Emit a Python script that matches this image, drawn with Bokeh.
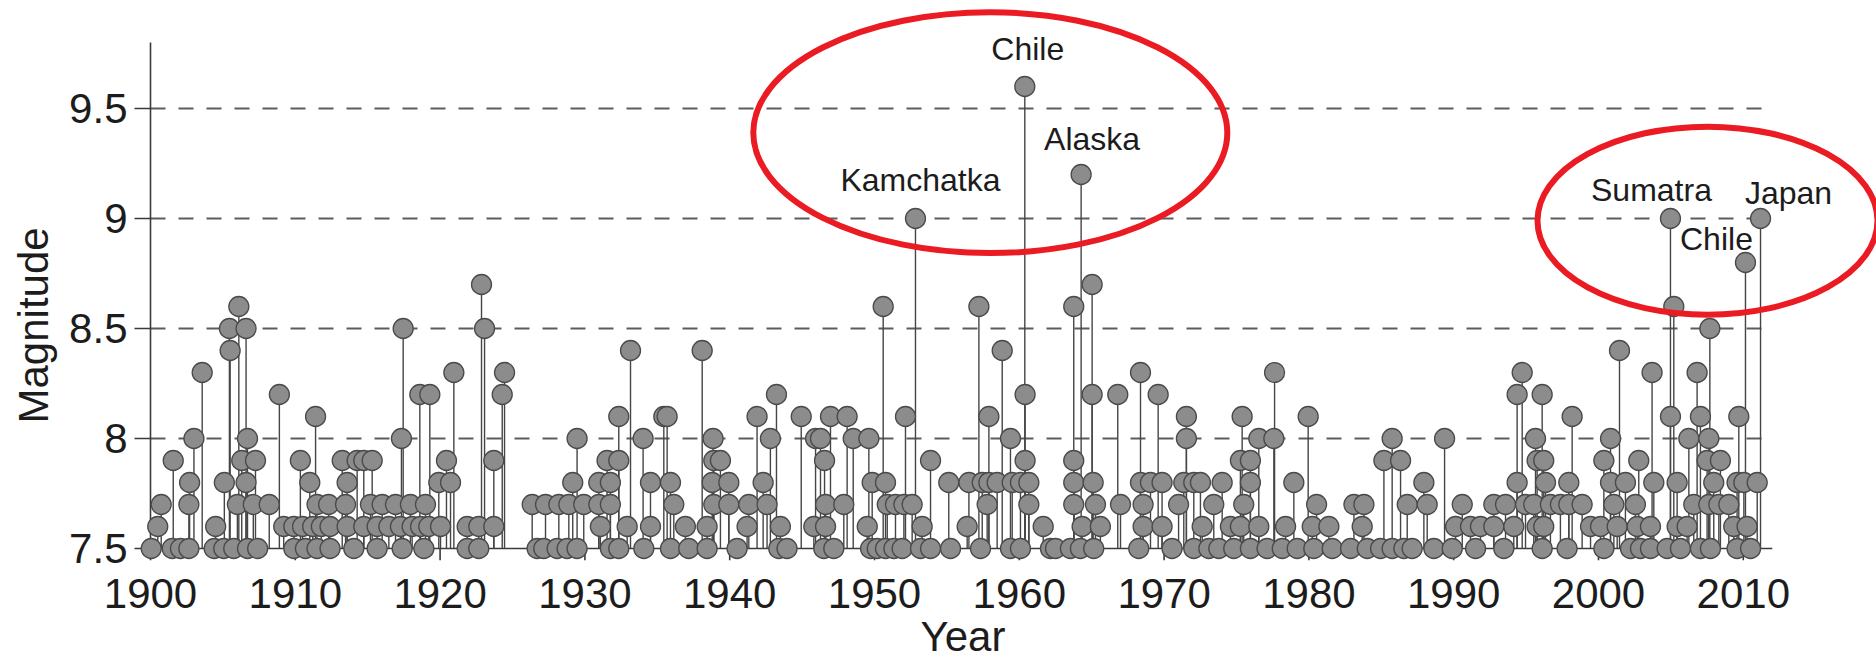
from bokeh.plotting import figure
from bokeh.models import ColumnDataSource, FixedTicker, Title
from bokeh.core.properties import value
from bokeh.embed import file_html
from bokeh.resources import INLINE

# ---------------- data ----------------
years_1900s = [1900.05,1900.50,1900.74,1901.50,1901.57,1902.07,1902.65,1902.65,1902.70,1903.00,1903.57,1904.40,1904.50,1905.06,1905.10,1905.45,1905.50,1905.75,1906.00,1906.10,1906.30,1906.60,1906.60,1906.70,1906.70,1907.10,1907.25,1907.40,1908.20,1908.90,1909.20,1909.90,1909.90,1910.35,1910.50,1910.70,1911.00,1911.20,1911.40,1911.50,1911.50,1911.80,1912.30,1912.40,1912.40]
mags_1900s = [7.5,7.6,7.7,7.5,7.9,7.5,7.5,7.7,7.8,8.0,8.3,7.5,7.6,7.5,7.8,8.5,8.4,7.5,7.7,8.6,7.9,8.5,7.8,8.0,7.5,7.7,7.9,7.5,7.7,8.2,7.6,7.5,7.6,7.9,7.6,7.5,7.8,7.6,8.1,7.5,7.7,7.6,7.7,7.5,7.6]

years_1910s = [1913.24,1913.47,1913.58,1913.58,1914.04,1914.27,1914.73,1914.73,1915.19,1915.31,1915.65,1915.65,1916.00,1916.46,1916.92,1917.26,1917.33,1917.38,1917.45,1917.95,1918.07,1918.60,1918.65,1918.88,1918.99,1919.22,1919.29,1919.91,1920.03,1920.44,1920.72,1920.95,1921.87,1921.87,1922.67,1922.67,1922.86,1923.07,1923.71,1923.71,1924.29,1924.45,1926.36,1926.70]
mags_1910s = [7.9,7.7,7.8,7.6,7.5,7.9,7.9,7.6,7.7,7.9,7.6,7.5,7.7,7.6,7.7,7.6,8.0,7.5,8.5,7.7,7.6,8.2,7.6,7.5,7.7,7.6,8.2,7.8,7.6,7.9,7.8,8.3,7.6,7.5,7.6,7.5,8.7,8.5,7.9,7.6,8.2,8.3,7.7,7.5]

years_1930s = [1927.16,1927.28,1928.08,1928.20,1928.77,1928.89,1929.16,1929.46,1929.46,1929.92,1930.96,1930.96,1931.07,1931.53,1931.76,1931.76,1931.76,1932.34,1932.34,1932.34,1932.92,1933.15,1934.02,1934.07,1934.53,1934.53,1935.45,1935.68,1935.91,1935.91,1936.14,1936.94,1937.17,1938.10,1938.44,1938.44,1938.79,1938.85,1938.90,1938.90,1939.36,1939.94,1939.94,1940.51,1941.20,1941.32,1941.89,1942.31,1942.58,1942.81,1943.23,1943.39,1943.50,1943.96]
mags_1930s = [7.5,7.7,7.5,7.7,7.5,7.7,7.8,8.0,7.5,7.7,7.7,7.8,7.6,7.9,7.7,7.8,7.5,8.1,7.9,7.5,7.6,8.4,8.0,7.5,7.8,7.6,8.1,8.1,7.8,7.5,7.7,7.6,7.5,8.4,7.6,7.5,7.8,8.0,7.9,7.7,7.9,7.8,7.7,7.5,7.6,7.7,8.1,7.8,7.7,8.0,8.2,7.5,7.6,7.5]

years_1950s = [1944.94,1945.81,1945.93,1946.27,1946.50,1946.55,1946.62,1946.62,1946.96,1947.19,1947.88,1948.11,1948.53,1949.50,1949.61,1949.73,1949.84,1950.19,1950.60,1950.76,1950.76,1950.88,1951.34,1951.45,1951.91,1952.03,1952.14,1952.60,1952.83,1953.18,1953.29,1953.87,1953.87,1955.13,1955.25,1956.40,1956.52,1957.21,1957.32,1957.44,1957.78,1957.90,1957.90,1958.47,1958.82,1959.39,1959.39,1959.51,1960.08,1960.08,1960.38,1960.40,1960.40,1960.66,1960.66]
mags_1950s = [8.1,7.6,8.0,8.0,7.5,7.9,7.7,7.6,8.1,7.5,7.7,8.1,8.0,7.6,8.0,7.5,7.8,7.5,8.6,7.8,7.5,7.7,7.5,7.7,7.5,7.7,8.1,7.7,9.0,7.5,7.6,7.9,7.5,7.8,7.5,7.6,7.8,8.6,7.5,7.8,7.7,8.1,7.8,7.8,8.4,8.0,7.5,7.8,7.8,7.5,9.6,8.2,7.9,7.8,7.7]

years_1960s = [1961.65,1962.15,1962.50,1963.53,1963.76,1963.76,1963.76,1963.76,1964.22,1964.27,1964.34,1965.03,1965.03,1965.10,1965.14,1965.26,1965.60,1966.80,1966.99,1968.25,1968.37,1968.37,1968.55,1968.55,1969.06,1969.59,1969.86,1969.86,1970.55,1971.00,1971.36,1971.54,1971.54,1972.05,1972.05,1972.51,1972.63,1973.09,1973.43,1973.78,1974.01,1974.58,1974.81,1975.27,1975.27,1975.39,1975.50,1975.96,1975.96,1975.96,1976.54,1976.54,1977.11]
mags_1960s = [7.6,7.5,7.5,7.5,8.6,7.9,7.8,7.7,7.5,9.2,7.6,8.7,8.2,7.8,7.5,7.7,7.6,8.2,7.7,7.5,8.3,7.8,7.7,7.6,7.8,8.2,7.8,7.6,7.5,7.7,7.8,8.1,8.0,7.8,7.5,7.8,7.6,7.5,7.7,7.5,7.8,7.6,7.5,7.9,7.6,8.1,7.7,7.9,7.8,7.5,8.0,7.6,7.5]

years_1980s = [1977.58,1977.63,1978.16,1978.39,1978.96,1979.19,1979.95,1980.23,1980.34,1980.53,1981.38,1981.61,1982.88,1983.11,1983.68,1983.80,1984.03,1984.95,1985.18,1985.75,1985.75,1986.33,1986.56,1986.79,1987.13,1987.94,1988.17,1988.63,1989.37,1989.90,1990.13,1990.59,1991.16,1991.51,1991.85,1992.77,1992.77]
mags_1980s = [8.0,8.3,7.5,7.6,7.8,7.5,8.1,7.6,7.5,7.7,7.6,7.5,7.5,7.7,7.6,7.7,7.5,7.5,7.9,8.0,7.5,7.9,7.5,7.7,7.5,7.8,7.7,7.5,8.0,7.5,7.6,7.7,7.6,7.5,7.6,7.6,7.7]

years_2000s = [1993.46,1993.58,1994.15,1994.38,1994.38,1994.73,1994.96,1995.53,1995.65,1995.76,1995.76,1996.11,1996.11,1996.22,1996.22,1996.34,1996.68,1997.37,1997.83,1997.95,1997.95,1998.18,1998.87,1999.45,2000.14,2000.37,2000.37,2000.83,2000.83,2001.06,2001.29,2001.45,2001.86,2002.21,2002.55,2002.67,2002.78,2002.90,2003.59,2003.59,2003.70,2003.82,2004.74,2004.97,2004.97,2005.20,2005.43,2005.43,2005.66,2006.12,2006.24,2006.58,2006.81,2007.04,2007.04,2007.50,2007.62,2007.62,2007.69,2007.73,2007.96,2008.31,2008.42,2009.00,2009.34,2009.57,2009.57,2009.69,2010.04,2010.15,2010.26,2010.50,2010.96,2011.19]
mags_2000s = [7.5,7.7,7.6,7.8,8.2,8.3,7.7,7.7,8.0,7.6,7.9,7.5,8.2,7.6,7.9,7.8,7.7,7.7,7.5,7.7,7.8,8.1,7.7,7.6,7.6,7.5,7.9,7.8,8.0,7.7,7.6,8.4,7.8,7.5,7.7,7.6,7.9,7.5,7.5,7.6,8.3,7.8,7.5,9.0,8.1,8.6,7.6,7.8,7.5,7.6,8.0,7.7,8.3,7.5,8.1,7.9,7.7,8.0,8.5,7.5,7.8,7.7,7.9,7.7,7.6,7.5,7.8,8.1,7.8,8.8,7.6,7.5,7.8,9.0]

x_ticks = [1900, 1910, 1920, 1930, 1940, 1950, 1960, 1970, 1980, 1990, 2000, 2010]
x_tick_labels = ["1900", "1910", "1920", "1930", "1940", "1950", "1960", "1970", "1980", "1990", "2000", "2010"]
y_ticks = [7.5, 8.0, 8.5, 9.0, 9.5]
y_tick_labels = ["7.5", "8", "8.5", "9", "9.5"]
x_axis_extent = [1900, 2012]
y_axis_extent = [7.5, 9.8]
x_title = "Year"
y_title = "Magnitude"

ann_names = ["Kamchatka", "Chile", "Alaska", "Sumatra", "Chile", "Japan"]
ann_years = [1952.83, 1960.38, 1964.27, 2004.97, 2010.15, 2011.19]
ann_mags = [9.0, 9.6, 9.2, 9.0, 8.8, 9.0]
ann_group = [0, 0, 0, 1, 1, 1]

# ---------------- styles / layout ----------------
ann_dx = [5, 3, 11, -19, -29, 28]
ann_dy = [-39, -38, -36, -29, -24, -26]
ring_w = [474, 340]
ring_h = [241, 188]
ring_shift_px = [-8, -8]
ring_pad = 0.09

FONT = "Liberation Sans"
INK = "#1c1c1c"
AXC = "#3a3a3a"
W, H = 1876, 661
BL, BR, BT, BB = 128, 0, 0, 101
PX_YEAR, PX_MAG = 14.48, 220.0
TICK_X, TICK_Y = 12, 16
frame_w = W - BL - BR
frame_h = H - BT - BB
x0 = x_axis_extent[0] - 22 / PX_YEAR
y0 = y_axis_extent[0] - 12 / PX_MAG

years = (years_1900s + years_1910s + years_1930s + years_1950s +
         years_1960s + years_1980s + years_2000s)
mags = (mags_1900s + mags_1910s + mags_1930s + mags_1950s +
        mags_1960s + mags_1980s + mags_2000s)
assert len(years) == len(mags)
base = y_axis_extent[0]
left = x_axis_extent[0]

p = figure(width=W, height=H,
           x_range=(x0, x0 + frame_w / PX_YEAR),
           y_range=(y0, y0 + frame_h / PX_MAG),
           output_backend="svg", toolbar_location=None,
           min_border_left=BL, min_border_right=BR,
           min_border_top=BT, min_border_bottom=BB,
           background_fill_color="white", border_fill_color="white")
p.outline_line_color = None
p.xgrid.visible = False
p.ygrid.visible = False

# library axes: tick labels only (rules/ticks drawn at the data origin below)
xa = p.xaxis[0]
xa.ticker = FixedTicker(ticks=x_ticks)
xa.major_label_overrides = dict(zip(x_ticks, x_tick_labels))
ya = p.yaxis[0]
ya.ticker = FixedTicker(ticks=y_ticks)
ya.major_label_overrides = dict(zip(y_ticks, y_tick_labels))
for ax, stand in ((xa, 18), (ya, 1)):
    ax.axis_line_color = None
    ax.major_tick_line_color = None
    ax.minor_tick_line_color = None
    ax.major_tick_out = 0
    ax.major_tick_in = 0
    ax.major_label_standoff = stand
    ax.major_label_text_font = FONT
    ax.major_label_text_font_size = "42px"
    ax.major_label_text_color = INK

# axis titles
p.add_layout(Title(text=x_title, align="left", offset=792, standoff=1,
                   vertical_align="bottom", text_font=FONT,
                   text_font_size="42px", text_font_style="normal",
                   text_color=INK), "below")
p.add_layout(Title(text=y_title, align="left", offset=137, standoff=16,
                   vertical_align="top", text_font=FONT,
                   text_font_size="42px", text_font_style="normal",
                   text_color=INK), "left")

# dashed grid lines
gl = [t for t in y_ticks if t > base]
p.segment(x0=[x_axis_extent[0]] * len(gl), y0=gl,
          x1=[x_axis_extent[1]] * len(gl), y1=gl,
          line_color="#5c5c5c", line_width=1.8, line_dash="15 13")

# axis rules and tick marks at the data origin
p.segment(x0=[left, left], y0=[base, base],
          x1=[left, x_axis_extent[1]], y1=[y_axis_extent[1], base],
          line_color=AXC, line_width=1.6)
p.segment(x0=x_ticks, y0=[base] * len(x_ticks), x1=x_ticks,
          y1=[base - TICK_X / PX_MAG] * len(x_ticks),
          line_color=AXC, line_width=1.6)
p.segment(x0=[left - TICK_Y / PX_YEAR] * len(y_ticks), y0=y_ticks,
          x1=[left] * len(y_ticks), y1=y_ticks,
          line_color=AXC, line_width=1.6)

src = ColumnDataSource(dict(year=years, mag=mags, base=[base] * len(years)))
p.segment(x0="year", y0="base", x1="year", y1="mag", source=src,
          line_color="#454545", line_width=1.4)
p.scatter(x="year", y="mag", source=src, marker="circle", size=20,
          fill_color="#8c8c8c", line_color="#4a4a4a", line_width=1.3)

# highlight rings around annotated events
rx, ry = [], []
for g in sorted(set(ann_group)):
    gy = [ann_years[i] for i in range(len(ann_group)) if ann_group[i] == g]
    gm = [ann_mags[i] for i in range(len(ann_group)) if ann_group[i] == g]
    rx.append((min(gy) + max(gy)) / 2 + ring_shift_px[g] / PX_YEAR)
    ry.append((min(gm) + max(gm)) / 2 + ring_pad)
p.ellipse(x=rx, y=ry, width=ring_w, height=ring_h,
          width_units="screen", height_units="screen",
          fill_color=None, line_color="#ea1b22", line_width=6)

asrc = ColumnDataSource(dict(x=ann_years, y=ann_mags, name=ann_names,
                             dx=ann_dx, dy=ann_dy))
p.text(x="x", y="y", text="name", x_offset="dx", y_offset="dy", source=asrc,
       text_font=value(FONT), text_font_size="32px", text_color=INK,
       text_align="center", text_baseline="alphabetic")

open("out.html", "w").write(file_html(p, INLINE))
